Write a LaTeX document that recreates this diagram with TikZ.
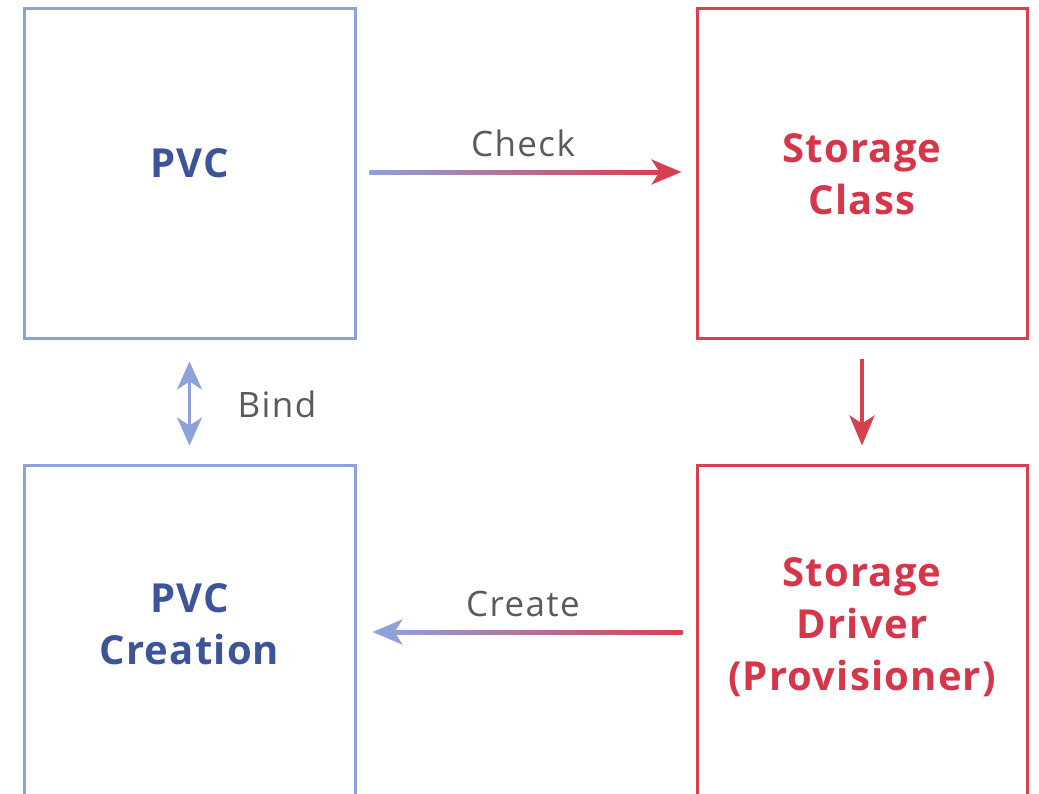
\documentclass[tikz,border=0pt]{standalone}
\usepackage{fontspec}
\setmainfont{Open Sans}
\newfontfamily\boxfont[LetterSpace=3]{Open Sans}
\newfontfamily\lblfont[LetterSpace=4]{Open Sans}
\usetikzlibrary{arrows.meta,calc}
\definecolor{boxblue}{HTML}{8EA1D8}
\definecolor{txtblue}{HTML}{3D5598}
\definecolor{boxred}{HTML}{D9404F}
\definecolor{txtred}{HTML}{D6364A}
\definecolor{lblgray}{HTML}{5A5A5A}
\tikzset{
  bluebox/.style={draw=boxblue, line width=3pt, minimum width=331pt, minimum height=330pt, inner sep=0pt},
  redbox/.style={draw=boxred, line width=3pt, minimum width=330pt, minimum height=330pt, inner sep=0pt},
  boxtext/.style={font=\boxfont\fontsize{40}{52}\selectfont\bfseries, align=center, inner sep=0pt},
  edgelbl/.style={text=lblgray, font=\lblfont\fontsize{35}{38}\selectfont, inner sep=0pt},
  tip/.style={-{Stealth[length=30pt, width=25pt, inset=8pt]}},
}
\begin{document}
\begin{tikzpicture}[x=1pt,y=-1pt]
\useasboundingbox (0,0) rectangle (1039,793);
\begin{scope}
\clip (0,0) rectangle (1039,793);
\node[bluebox] (pvc) at (189.5,173) {};
\node[redbox] (sc) at (862,173) {};
\node[bluebox] (pvcc) at (189.5,630) {};
\node[redbox] (sd) at (862,630) {};
\end{scope}
\node[boxtext, text=txtblue] (pvct) at (189.5,163) {PVC};
\node[boxtext, text=txtred] (sct) at (862,174) {Storage\\Class};
\node[boxtext, text=txtblue] (pvcct) at (189.5,624) {PVC\\Creation};
\node[boxtext, text=txtred] (sdt) at (862,627) {Storage\\Driver\\(Provisioner)};
% Check arrow
\coordinate (c1) at ($(pvc.east)+(13,-1)$);
\coordinate (c2) at ($(sc.west)+(-14,-1)$);
\shade[left color=boxblue, right color=boxred] ($(c1)+(0,-2)$) rectangle ($(c2)+(-20,2)$);
\draw[tip, boxred, line width=4pt] ($(c2)+(-22,0)$) -- (c2);
\node[edgelbl] (chk) at (523,143) {Check};
% Down arrow
\draw[tip, boxred, line width=4pt] ($(sc.south)+(0,19)$) -- ($(sd.north)+(0,-18)$);
% Bind
\draw[{Stealth[length=28pt, width=25pt, inset=8pt]}-{Stealth[length=28pt, width=25pt, inset=8pt]}, boxblue, line width=3pt] ($(pvc.south)+(0,22)$) -- ($(pvcc.north)+(0,-18)$);
\node[edgelbl] (bind) at (277,404) {Bind};
% Create arrow
\coordinate (d1) at ($(sd.west)+(-13,2)$);
\coordinate (d2) at ($(pvcc.east)+(16,2)$);
\shade[left color=boxblue, right color=boxred] ($(d2)+(20,-2)$) rectangle ($(d1)+(0,2)$);
\draw[tip, boxblue, line width=4pt] ($(d2)+(22,0)$) -- (d2);
\node[edgelbl] (crt) at (523,604) {Create};
\end{tikzpicture}
\end{document}
